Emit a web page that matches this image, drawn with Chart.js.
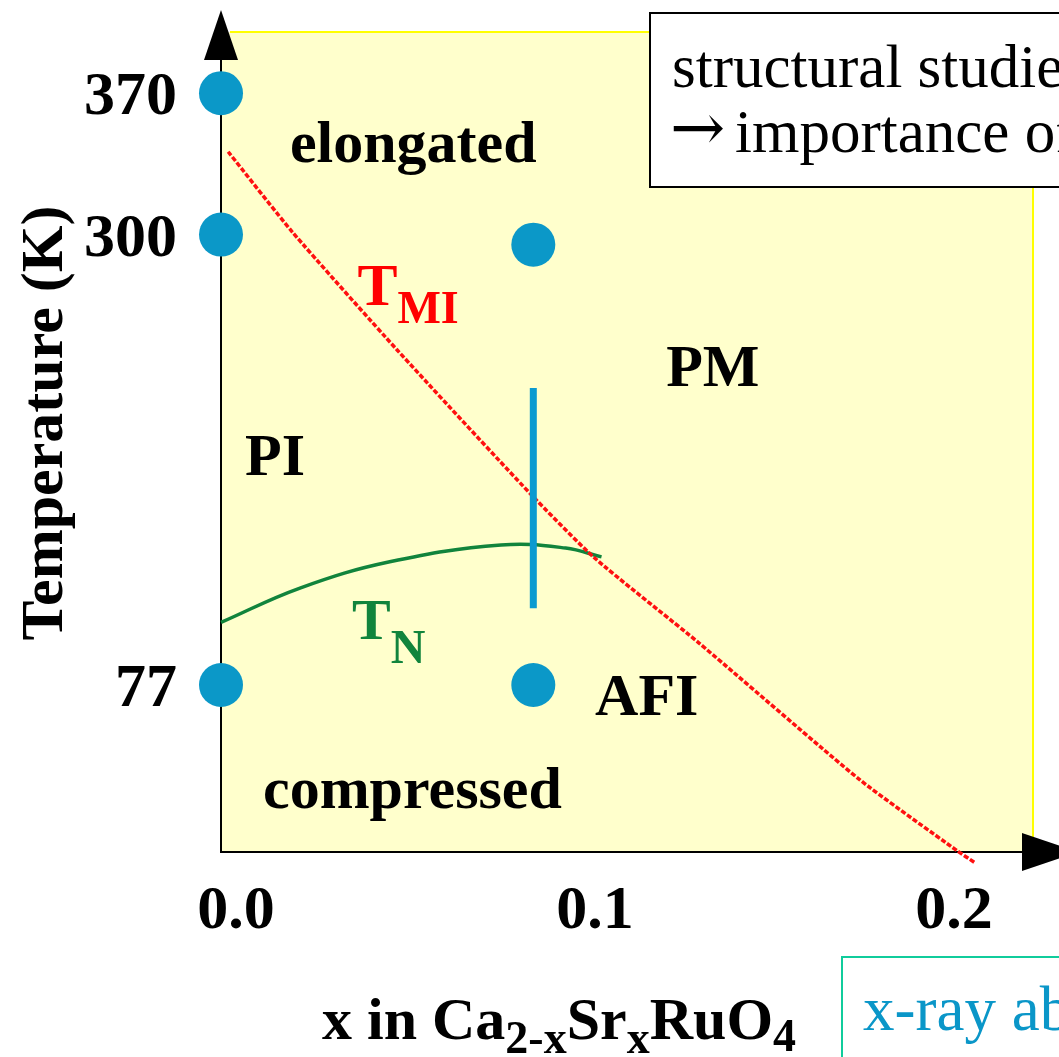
<!DOCTYPE html>
<html>
<head>
<meta charset="utf-8">
<script src="https://cdn.jsdelivr.net/npm/chart.js@4"></script>
<style>
  html, body { margin: 0; padding: 0; background: #fff; }
  #wrap { width: 1059px; height: 1057px; }
</style>
</head>
<body>
<div id="wrap"><canvas id="c" width="1059" height="1057"></canvas></div>
<script>
// Phase diagram of Ca2-xSrxRuO4: metal–insulator (T_MI) and Néel (T_N) lines

const xTicks = [0.0, 0.1, 0.2];
const tTicks = [77, 300, 370];

// structural measurement points
const sampleX = [0.0, 0.0, 0.0, 0.087, 0.087];
const sampleT = [370, 300, 77, 295, 77];

// metal–insulator transition T_MI
const tmiX = [0.002, 0.020, 0.049, 0.086, 0.104, 0.133, 0.178, 0.205, 0.210];
const tmiT = [341, 301, 243, 172, 140, 98, 30, -5, -11];

// Néel temperature T_N
const tnX = [0.0, 0.022, 0.047, 0.078, 0.096, 0.106];
const tnT = [108, 125, 138, 146.3, 144.8, 140.4];

// temperature window scanned at x = 0.087
const barX = [0.087, 0.087];
const barT = [224, 115];

const regionNames = ['elongated', 'PM', 'PI', 'AFI', 'compressed'];

const SERIF = "'Liberation Serif', 'Times New Roman', serif";
const pts = (xs, ys) => xs.map((v, i) => ({ x: v, y: ys[i] }));

function drawRuns(ctx, runs, x, y) {
  // runs: [text, fontSize, baselineShift]
  let cx = x;
  for (const [t, size, dy] of runs) {
    ctx.font = 'bold ' + size + 'px ' + SERIF;
    ctx.fillText(t, cx, y + dy);
    cx += ctx.measureText(t).width;
  }
}

const decor = {
  id: 'decor',
  beforeDraw(chart) {
    const { ctx, chartArea: a } = chart;
    ctx.save();
    ctx.fillStyle = '#ffffff';
    ctx.fillRect(0, 0, chart.width, chart.height);
    ctx.fillStyle = '#ffffcc';
    ctx.fillRect(a.left, a.top, a.right - a.left, a.bottom - a.top);
    ctx.strokeStyle = '#ffff00';
    ctx.lineWidth = 2;
    ctx.beginPath();
    ctx.moveTo(a.left + 9, a.top);
    ctx.lineTo(a.right, a.top);
    ctx.lineTo(a.right, a.bottom);
    ctx.stroke();
    ctx.restore();
  },
  afterDraw(chart) {
    const { ctx, chartArea: a, scales: { x, y } } = chart;
    ctx.save();

    // axis extensions and arrow heads
    ctx.strokeStyle = '#000';
    ctx.fillStyle = '#000';
    ctx.lineWidth = 2;
    ctx.beginPath();
    ctx.moveTo(a.left, a.top);
    ctx.lineTo(a.left, a.top + 24);
    ctx.stroke();
    ctx.beginPath();
    ctx.moveTo(a.left, a.top - 22);
    ctx.lineTo(a.left - 17, a.top + 28);
    ctx.lineTo(a.left + 17, a.top + 28);
    ctx.closePath();
    ctx.fill();
    ctx.beginPath();
    ctx.moveTo(a.right - 11, a.bottom - 19);
    ctx.lineTo(a.right - 11, a.bottom + 19);
    ctx.lineTo(a.right + 45, a.bottom);
    ctx.closePath();
    ctx.fill();

    // region labels
    ctx.fillStyle = '#000';
    ctx.textAlign = 'left';
    ctx.textBaseline = 'alphabetic';
    ctx.font = 'bold 60px ' + SERIF;
    const at = [[0.0192, 336], [0.1240, 225], [0.0067, 181], [0.1042, 62], [0.0117, 16]];
    regionNames.forEach((name, i) => {
      ctx.fillText(name, x.getPixelForValue(at[i][0]), y.getPixelForValue(at[i][1]));
    });

    // line labels
    ctx.fillStyle = '#ff0000';
    drawRuns(ctx, [['T', 60, 0], ['MI', 46, 18]], x.getPixelForValue(0.038), y.getPixelForValue(265));
    ctx.fillStyle = '#11843c';
    drawRuns(ctx, [['T', 58, 0], ['N', 48, 24]], x.getPixelForValue(0.0365), y.getPixelForValue(100));

    // axis titles
    ctx.fillStyle = '#000';
    drawRuns(ctx, [['x in Ca', 60, 0], ['2-x', 46, 14], ['Sr', 60, 0], ['x', 46, 14], ['RuO', 60, 0], ['4', 46, 12]], 322, 1039);
    ctx.save();
    ctx.translate(62, 423);
    ctx.rotate(-Math.PI / 2);
    ctx.textAlign = 'center';
    ctx.font = 'bold 60px ' + SERIF;
    ctx.fillText('Temperature (K)', 0, 0);
    ctx.restore();

    // note boxes
    ctx.fillStyle = '#fff';
    ctx.fillRect(650, 13, 460, 174);
    ctx.strokeStyle = '#000';
    ctx.lineWidth = 2;
    ctx.strokeRect(650, 13, 460, 174);
    ctx.fillStyle = '#000';
    ctx.textAlign = 'left';
    ctx.font = '61px ' + SERIF;
    ctx.fillText('structural studies', 672, 87);
    ctx.font = '66px "DejaVu Serif"';
    ctx.fillText('\u2192', 670, 150);
    ctx.font = '61px ' + SERIF;
    ctx.fillText('importance of', 735, 152);

    ctx.fillStyle = '#fff';
    ctx.fillRect(842, 957, 260, 140);
    ctx.strokeStyle = '#10cc9c';
    ctx.strokeRect(842, 957, 260, 140);
    ctx.fillStyle = '#0a96c8';
    ctx.font = '63px ' + SERIF;
    ctx.fillText('x-ray absorption', 863, 1030);

    ctx.restore();
  }
};

new Chart(document.getElementById('c'), {
  type: 'scatter',
  data: {
    datasets: [
      {
        label: 'window',
        data: pts(barX, barT),
        showLine: true,
        borderColor: '#0b9ad0',
        borderWidth: 7,
        pointRadius: 0,
        order: 0
      },
      {
        label: 'samples',
        data: pts(sampleX, sampleT),
        backgroundColor: '#0b98c8',
        borderWidth: 0,
        pointRadius: 22,
        clip: false,
        order: 1
      },
      {
        label: 'T_MI',
        data: pts(tmiX, tmiT),
        showLine: true,
        borderColor: '#ff1010',
        borderWidth: 3.5,
        borderDash: [5, 2],
        tension: 0.2,
        pointRadius: 0,
        clip: false,
        order: 2
      },
      {
        label: 'T_N',
        data: pts(tnX, tnT),
        showLine: true,
        borderColor: '#11843c',
        borderWidth: 3.5,
        tension: 0.4,
        pointRadius: 0,
        clip: false,
        order: 3
      }
    ]
  },
  options: {
    responsive: false,
    animation: false,
    layout: { padding: { left: 0, top: 32, right: 26, bottom: 0 } },
    plugins: { legend: { display: false }, tooltip: { enabled: false } },
    scales: {
      x: {
        type: 'linear',
        min: 0,
        max: 0.2262,
        afterFit(s) { s.height = 205; s.paddingLeft = 0; s.paddingRight = 0; },
        afterBuildTicks(s) { s.ticks = xTicks.map(v => ({ value: v })); },
        grid: { display: false, drawTicks: false },
        border: { display: true, color: '#000', width: 2 },
        ticks: {
          autoSkip: false,
          maxRotation: 0,
          padding: 23,
          labelOffset: 15,
          color: '#000',
          font: { family: SERIF, size: 62, weight: 'bold' },
          callback: v => v.toFixed(1)
        }
      },
      y: {
        type: 'linear',
        min: -5.7,
        max: 400.3,
        afterFit(s) { s.width = 221; s.paddingTop = 0; s.paddingBottom = 0; },
        afterBuildTicks(s) { s.ticks = tTicks.map(v => ({ value: v })); },
        grid: { display: false, drawTicks: false },
        border: { display: true, color: '#000', width: 2 },
        ticks: {
          autoSkip: false,
          padding: 44,
          labelOffset: 5,
          color: '#000',
          font: { family: SERIF, size: 62, weight: 'bold' },
          callback: v => String(v)
        }
      }
    }
  },
  plugins: [decor]
});
</script>
</body>
</html>
